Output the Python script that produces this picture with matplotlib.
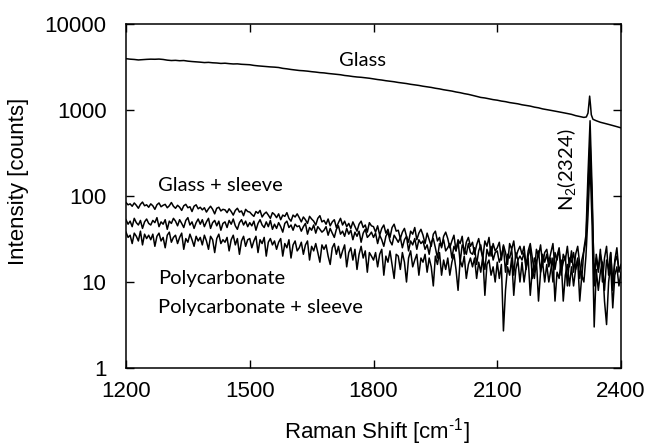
import numpy as np
import matplotlib
matplotlib.use("Agg")
import matplotlib.pyplot as plt

# ---------------- data ----------------
glass_x = [1200, 1210, 1220, 1230, 1240, 1250, 1260, 1270, 1280, 1290,
           1300, 1310, 1320, 1330, 1340, 1350, 1360, 1370, 1380, 1390,
           1400, 1410, 1420, 1430, 1440, 1450, 1460, 1470, 1480, 1490,
           1500, 1510, 1520, 1530, 1540, 1550, 1560, 1570, 1580, 1590,
           1600, 1610, 1620, 1630, 1640, 1650, 1660, 1670, 1680, 1690,
           1700, 1710, 1720, 1730, 1740, 1750, 1760, 1770, 1780, 1790,
           1800, 1810, 1820, 1830, 1840, 1850, 1860, 1870, 1880, 1890,
           1900, 1910, 1920, 1930, 1940, 1950, 1960, 1970, 1980, 1990,
           2000, 2010, 2020, 2030, 2040, 2050, 2060, 2070, 2080, 2090,
           2100, 2110, 2120, 2130, 2140, 2150, 2160, 2170, 2180, 2190,
           2200, 2210, 2220, 2230, 2240, 2250, 2260, 2270, 2280, 2290,
           2300, 2310, 2316, 2320, 2322, 2324, 2326, 2328, 2332,
           2340, 2350, 2360, 2370, 2380, 2390, 2400]
glass_y = [3950, 3900, 3870, 3820, 3850, 3880, 3900, 3890, 3910, 3870,
           3800, 3760, 3780, 3740, 3760, 3700, 3660, 3630, 3600, 3560,
           3580, 3540, 3520, 3480, 3500, 3460, 3430, 3440, 3400, 3380,
           3360, 3300, 3260, 3230, 3200, 3170, 3150, 3120, 3050, 3010,
           2960, 2920, 2880, 2860, 2830, 2790, 2760, 2720, 2700, 2660,
           2630, 2600, 2570, 2520, 2490, 2450, 2420, 2400, 2370, 2340,
           2300, 2260, 2230, 2190, 2160, 2130, 2090, 2060, 2030, 1990,
           1960, 1930, 1890, 1860, 1830, 1790, 1760, 1720, 1690, 1660,
           1620, 1590, 1550, 1520, 1480, 1440, 1400, 1380, 1350, 1320,
           1300, 1270, 1250, 1220, 1200, 1180, 1150, 1130, 1110, 1080,
           1060, 1030, 1010, 990, 970, 950, 930, 910, 890, 860,
           840, 820, 830, 920, 1150, 1450, 1150, 880, 780,
           750, 720, 700, 680, 660, 640, 620]

noisy_x = np.arange(1200, 2401, 5)

glass_sleeve = [
    84, 79, 81, 76, 83, 78, 72, 80, 85, 77, 79, 74,
    81, 77, 70, 79, 83, 75, 78, 80, 73, 77, 84, 76,
    72, 78, 74, 68, 77, 80, 73, 75, 66, 76, 79, 71,
    74, 69, 73, 65, 71, 76, 70, 62, 72, 74, 67, 70,
    69, 64, 71, 66, 60, 68, 72, 65, 67, 59, 70, 66,
    65, 61, 58, 66, 63, 68, 57, 62, 65, 60, 55, 64,
    61, 56, 62, 53, 60, 58, 64, 55, 51, 60, 57, 62,
    56, 50, 57, 53, 48, 58, 54, 51, 46, 55, 59, 50,
    52, 47, 54, 45, 50, 53, 43, 49, 55, 46, 51, 44,
    48, 42, 50, 44, 39, 47, 51, 43, 46, 38, 49, 45,
    44, 38, 45, 35, 42, 46, 37, 41, 33, 43, 47, 39,
    40, 32, 38, 42, 34, 29, 39, 36, 43, 31, 37, 41,
    35, 28, 37, 31, 26, 36, 39, 30, 33, 25, 34, 38,
    32, 25, 30, 35, 23, 31, 28, 34, 21, 29, 33, 26,
    29, 21, 27, 32, 24, 19, 30, 26, 33, 20, 28, 23,
    25, 29, 18, 27, 22, 16, 28, 24, 30, 19, 23, 26,
    21, 26, 15, 23, 28, 19, 13, 24, 20, 27, 16, 22,
    24, 17, 22, 28, 14, 20, 25, 12, 21, 18, 26, 15,
    23, 13, 21, 26, 16, 11, 24, 35, 180, 750, 120, 9,
    21, 14, 24, 10, 19, 26, 12, 22, 8, 18, 25, 13,
    16]

polycarbonate = [
    53, 47, 51, 44, 55, 49, 46, 52, 42, 50, 54, 48,
    46, 52, 49, 56, 44, 50, 47, 53, 41, 51, 48, 55,
    51, 45, 53, 48, 43, 52, 56, 46, 50, 42, 49, 54,
    47, 53, 44, 50, 55, 42, 49, 52, 45, 51, 40, 48,
    50, 43, 52, 47, 54, 45, 41, 49, 53, 46, 51, 44,
    49, 45, 51, 40, 48, 53, 46, 43, 50, 44, 52, 41,
    47, 42, 49, 44, 38, 48, 51, 43, 46, 40, 47, 44,
    45, 39, 44, 48, 36, 43, 40, 46, 37, 44, 41, 38,
    40, 44, 35, 42, 37, 33, 41, 45, 36, 39, 34, 42,
    36, 40, 31, 38, 34, 39, 29, 37, 41, 33, 35, 38,
    33, 37, 28, 35, 31, 26, 34, 38, 30, 27, 35, 32,
    29, 33, 25, 31, 34, 23, 30, 27, 32, 24, 31, 28,
    30, 24, 27, 21, 29, 32, 25, 19, 28, 26, 31, 23,
    25, 28, 19, 26, 23, 30, 17, 27, 24, 21, 28, 22,
    21, 25, 16, 23, 27, 19, 14, 24, 20, 26, 18, 22,
    23, 17, 20, 26, 13, 21, 19, 24, 12, 22, 18, 20,
    18, 22, 14, 20, 25, 11, 19, 16, 23, 13, 21, 17,
    21, 15, 19, 10, 22, 18, 24, 13, 17, 20, 9, 19,
    17, 22, 14, 19, 11, 18, 23, 30, 120, 450, 80, 12,
    19, 13, 21, 16, 8, 18, 14, 22, 10, 17, 20, 14,
    15]

polycarbonate_sleeve = [
    38, 33, 35, 28, 37, 34, 30, 39, 27, 36, 32, 35,
    31, 36, 26, 34, 37, 30, 33, 25, 35, 38, 29, 33,
    35, 28, 33, 37, 24, 32, 29, 36, 31, 26, 34, 30,
    33, 27, 35, 30, 24, 34, 31, 22, 32, 36, 28, 31,
    29, 33, 23, 31, 35, 27, 32, 21, 30, 34, 26, 31,
    32, 25, 30, 34, 22, 31, 28, 33, 20, 29, 32, 27,
    30, 24, 29, 32, 20, 28, 25, 31, 19, 27, 30, 23,
    25, 29, 21, 27, 30, 18, 26, 23, 28, 22, 17, 27,
    24, 27, 20, 16, 25, 28, 21, 26, 19, 23, 27, 15,
    22, 25, 18, 24, 14, 21, 26, 19, 23, 13, 22, 20,
    18, 22, 15, 21, 24, 12, 20, 17, 23, 16, 11, 21,
    20, 14, 22, 17, 10, 19, 23, 15, 18, 21, 12, 19,
    17, 21, 13, 19, 15, 9, 20, 16, 22, 12, 18, 14,
    19, 12, 17, 21, 14, 8, 18, 15, 20, 11, 16, 19,
    15, 19, 11, 17, 13, 20, 7, 16, 18, 12, 15, 10,
    17, 11, 16, 2.7, 8, 15, 12, 19, 7, 14, 18, 10,
    17, 10, 15, 19, 7, 14, 11, 18, 6, 13, 17, 10,
    16, 10, 14, 19, 6, 13, 11, 18, 6, 12, 16, 9,
    15, 9, 14, 18, 6, 12, 10, 20, 60, 250, 45, 3.0,
    14, 8, 13, 17, 6, 3.2, 10, 16, 5, 12, 15, 9,
    13]

x_ticks = [1200, 1500, 1800, 2100, 2400]
y_ticks = [1, 10, 100, 1000, 10000]
y_ticklabels = ["1", "10", "100", "1000", "10000"]

# ---------------- plot ----------------
plt.rcParams['mathtext.fontset'] = 'custom'
plt.rcParams['mathtext.rm'] = 'Liberation Sans'
plt.rcParams['mathtext.it'] = 'Liberation Sans'

fig = plt.figure(figsize=(6.49, 4.47), dpi=100)
ax = fig.add_axes([126/649, 1 - 368/447, (621-126)/649, (368-24)/447])

lw = 1.1
ax.plot(noisy_x, glass_sleeve, color='black', lw=lw)
ax.plot(noisy_x, polycarbonate, color='black', lw=lw)
ax.plot(noisy_x, polycarbonate_sleeve, color='black', lw=lw)
ax.plot(glass_x, glass_y, color='black', lw=lw)

ax.set_yscale('log')
ax.set_xlim(1200, 2400)
ax.set_ylim(1, 10000)
ax.set_xticks(x_ticks)
ax.set_xticklabels([str(t) for t in x_ticks])
ax.set_yticks(y_ticks)
ax.set_yticklabels(y_ticklabels)
ax.yaxis.set_minor_locator(matplotlib.ticker.NullLocator())
ax.xaxis.set_minor_locator(matplotlib.ticker.NullLocator())

ax.tick_params(axis='both', direction='in', length=6, width=1, top=True, right=True,
               labelsize=16)
ax.tick_params(axis='x', pad=9.5)
ax.tick_params(axis='y', pad=14)
for lab in ax.get_xticklabels() + ax.get_yticklabels():
    lab.set_family('Liberation Sans')
for s in ax.spines.values():
    s.set_linewidth(1.1)

ax.set_xlabel(r'Raman Shift [cm$^{\text{-}1}$]', family='Liberation Sans', fontsize=16)
ax.set_ylabel('Intensity [counts]', family='Liberation Sans', fontsize=16)
ax.xaxis.set_label_coords((377-126)/495, (368-432)/344)
ax.xaxis.label.set_va('center')
ax.yaxis.set_label_coords((19-126)/495, (368-181)/344)
ax.yaxis.label.set(va='center', ha='center', rotation_mode='default')

tf = dict(family='Lato', fontsize=14.5, color='black')
ax.text(1774, 3800, 'Glass', ha='center', va='center', **tf)
ax.text(1278, 134, 'Glass + sleeve', ha='left', va='center', **tf)
ax.text(1278, 11.1, 'Polycarbonate', ha='left', va='center', **tf)
ax.text(1278, 5.1, 'Polycarbonate + sleeve', ha='left', va='center', **tf)
ax.text(2271, 200, r'N$_2$(2324)', rotation=90, ha='center', va='center', **tf)

fig.savefig('out.png', dpi=100)
